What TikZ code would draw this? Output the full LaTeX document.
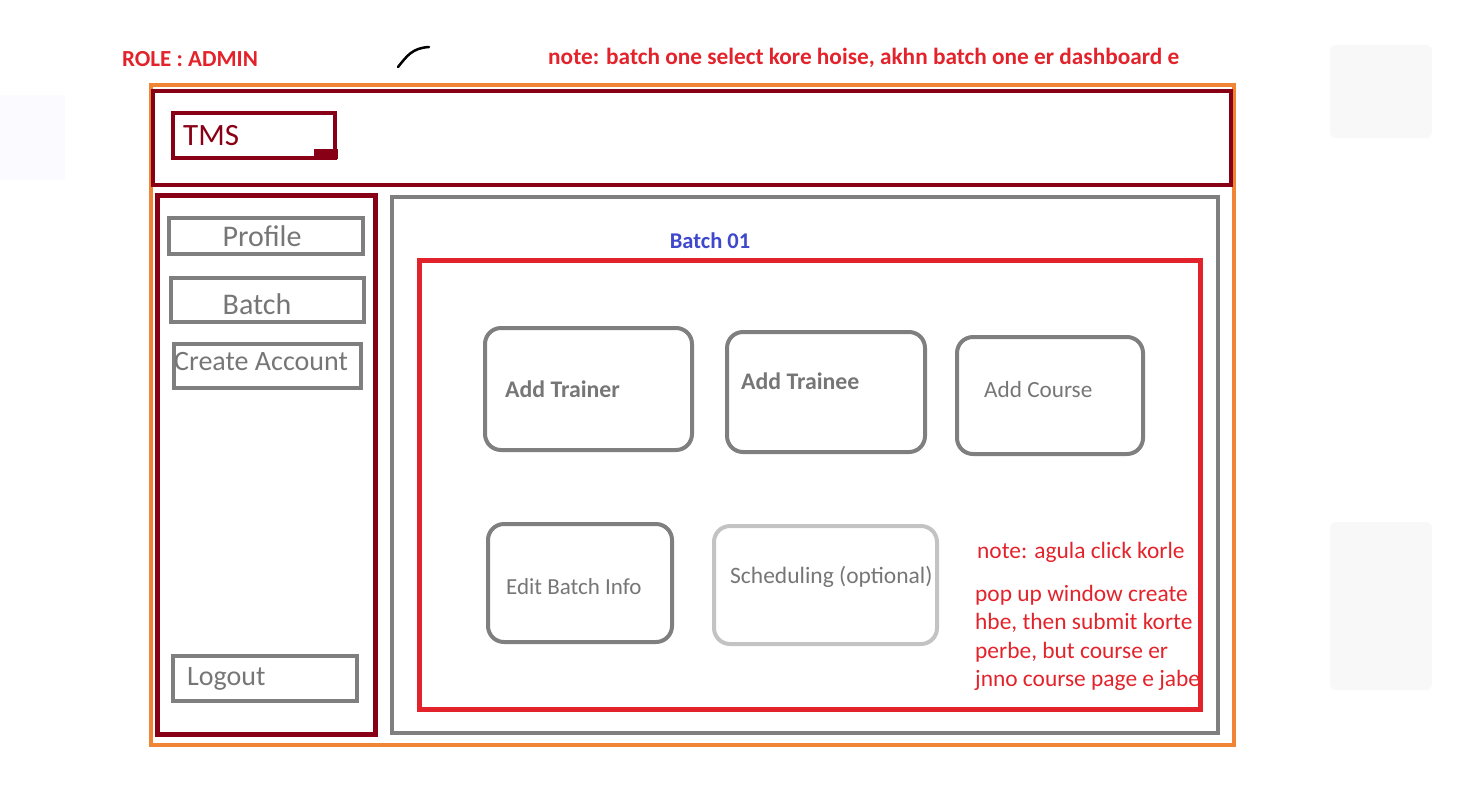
\documentclass[tikz,border=0pt]{standalone}
\usepackage{fontspec}
\setmainfont{Carlito}
\definecolor{orng}{HTML}{F08535}
\definecolor{dred}{HTML}{880015}
\definecolor{gry}{HTML}{7F7F7F}
\definecolor{lgry}{HTML}{C3C3C3}
\definecolor{rd}{HTML}{E3232B}
\definecolor{blu}{HTML}{3F48CC}
\definecolor{txtg}{HTML}{767676}
\definecolor{faint}{HTML}{F8F8F8}
\begin{document}
\begin{tikzpicture}[x=1pt,y=-1pt,
  rect/.style={inner sep=0pt, outer sep=0pt, anchor=north west, line width=4pt},
  rbox/.style={inner sep=0pt, outer sep=0pt, anchor=north west, line width=4pt, draw=gry, rounded corners=16pt},
  lbl/.style={inner sep=0pt, anchor=base west, text=txtg},
  note/.style={inner sep=0pt, anchor=base west, text=rd, font=\fontsize{23.4}{28}\selectfont}
]
\useasboundingbox (0,0) rectangle (1461,796);
% faint background panels
\fill[faint, rounded corners=6pt] (1330,45) rectangle (1432,138);
\fill[faint, rounded corners=6pt] (1330,522) rectangle (1432,690);
\fill[blue!2] (0,95) rectangle (65,180);

% headings
\node[inner sep=0pt, anchor=base west, text=rd, font=\bfseries\fontsize{23}{27}\selectfont] (role) at (122,66) {ROLE : ADMIN};
\node[inner sep=0pt, anchor=base west, text=rd, font=\bfseries\fontsize{23.3}{28}\selectfont] (topnote) at (548,64) {note: batch one select kore hoise, akhn batch one er dashboard e};
\coordinate (s1) at (398,67);
\coordinate (s2) at (429,47);
\draw[line width=2.5pt, line cap=round] (s1) .. controls (407,56) and (412,48) .. (s2);

% frames
\node[rect, draw=orng, minimum width=1083pt, minimum height=660pt] (outer) at (151,85) {};
\node[rect, draw=dred, minimum width=1078pt, minimum height=94pt] (header) at (153,91) {};
\node[rect, draw=dred, minimum width=162pt, minimum height=45pt] (tmsbox) at (173,113) {};
\fill[dred] (314,149) rectangle (338,159);
\node[inner sep=0pt, anchor=base west, text=dred, font=\fontsize{31}{36}\selectfont] (tms) at (183,145) {TMS};

\node[rect, draw=dred, line width=5pt, minimum width=218pt, minimum height=539pt] (side) at (157.5,195) {};
\node[rect, draw=gry, minimum width=826pt, minimum height=536pt] (main) at (392,197) {};

% sidebar buttons
\node[rect, draw=gry, minimum width=194pt, minimum height=36pt] (profbox) at (169,218) {};
\node[inner sep=0pt, anchor=base, text=txtg, font=\fontsize{30}{36}\selectfont] (prof) at (262,246) {Profile};
\node[rect, draw=gry, minimum width=193pt, minimum height=44pt] (batchbox) at (171,278) {};
\node[inner sep=0pt, anchor=base, text=txtg, font=\fontsize{30}{36}\selectfont] (batch) at (257,314) {Batch};
\node[rect, draw=gry, minimum width=187pt, minimum height=44pt] (cabox) at (174,344) {};
\node[lbl, font=\fontsize{28}{34}\selectfont] (ca) at (174,370) {Create Account};
\node[rect, draw=gry, minimum width=184pt, minimum height=45pt] (logbox) at (173,656) {};
\node[lbl, font=\fontsize{28}{34}\selectfont] (logout) at (187,685) {Logout};

% batch area
\node[inner sep=0pt, anchor=base, text=blu, font=\bfseries\fontsize{22.5}{27}\selectfont] (b01) at (710,248) {Batch 01};
\node[rect, draw=rd, line width=5pt, minimum width=781pt, minimum height=449pt] (redbox) at (419,260) {};

\node[rbox, minimum width=207pt, minimum height=122pt] (trbox) at (485,328) {};
\node[lbl, font=\bfseries\fontsize{23.8}{28}\selectfont] (tr) at (505,397) {Add Trainer};
\node[rbox, minimum width=198pt, minimum height=120pt] (teebox) at (727,332) {};
\node[lbl, font=\bfseries\fontsize{23.8}{28}\selectfont] (tee) at (741,389) {Add Trainee};
\node[rbox, minimum width=186pt, minimum height=117pt] (cobox) at (957,337) {};
\node[lbl, font=\fontsize{23.2}{28}\selectfont] (co) at (984,397) {Add Course};
\node[rbox, minimum width=184pt, minimum height=118pt] (edbox) at (488,524) {};
\node[lbl, font=\fontsize{23}{28}\selectfont] (ed) at (506,594) {Edit Batch Info};
\node[rbox, draw=lgry, minimum width=223pt, minimum height=118pt] (scbox) at (714,526) {};
\node[lbl, font=\fontsize{23.5}{28}\selectfont] (sc) at (730,583) {Scheduling (optional)};

% side note
\node[note] (n1) at (977,558) {note: agula click korle};
\node[note] (n2) at (975,601) {pop up window create};
\node[note] (n3) at (975,629.5) {hbe, then submit korte};
\node[note] (n4) at (975,658) {perbe, but course er};
\node[note] (n5) at (975,686.5) {jnno course page e jabe};
\end{tikzpicture}
\end{document}
